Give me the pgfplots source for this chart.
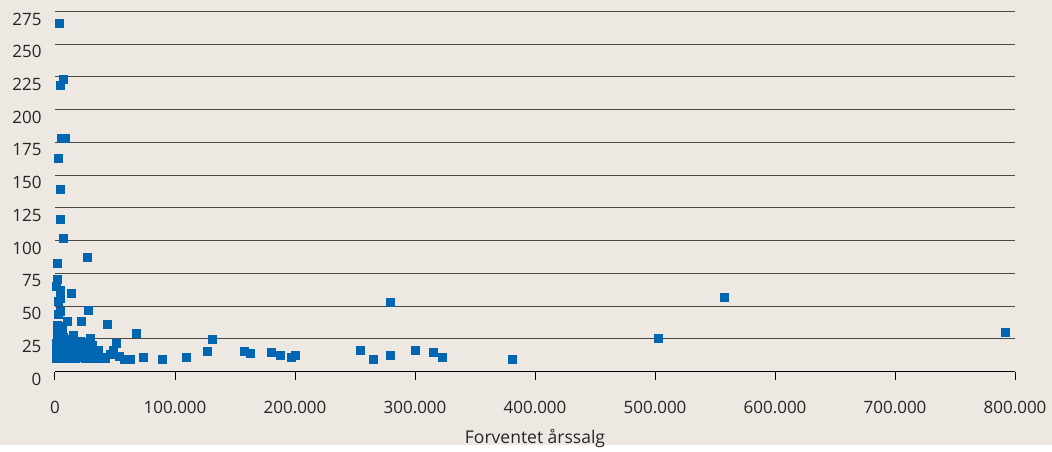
\documentclass[border=0pt]{standalone}
\usepackage{fontspec}
\setmainfont{Open Sans}
\usepackage{pgfplots}
\pgfplotsset{compat=1.18}

\definecolor{bgbeige}{HTML}{EDE9E2}
\definecolor{dotblue}{HTML}{0066B2}
\definecolor{gridgray}{HTML}{4A4946}

\begin{document}
\begin{tikzpicture}
% page background, 1052 x 445, axis area starts at (0,0)
\fill[bgbeige] (-55pt,-73.5pt) rectangle (997pt,371.5pt);
\begin{axis}[
    scale only axis,
    width=960pt,
    height=360pt,
    xmin=0, xmax=800000,
    ymin=0, ymax=275,
    enlargelimits=false,
    clip=false,
    axis x line=bottom,
    axis y line=left,
    axis line style={-},
    x axis line style={black, line width=1pt},
    y axis line style={draw=none},
    ytick={0,25,...,275},
    xtick={0,100000,...,800000},
    ytick style={draw=none},
    xtick style={black, line width=1pt},
    xtick align=outside,
    major tick length=8pt,
    scaled x ticks=false,
    ymajorgrids,
    grid style={gridgray, line width=1pt},
    /pgf/number format/.cd, fixed, 1000 sep={.}, assume math mode=true,
    /pgfplots/.cd,
    tick label style={font=\fontsize{17}{20}\selectfont, text=black!85},
    yticklabel style={yshift=-7.5pt, xshift=-6pt},
    xticklabel style={yshift=-18pt},
    xlabel={Forventet årssalg},
    xlabel style={font=\fontsize{17.5}{20}\selectfont, text=black!85, yshift=-9pt},
]
\addplot[only marks, color=dotblue, mark=square*, mark size=4pt,
         mark options={draw=none, fill=dotblue}] coordinates {
% tall values at very small sales
(3300,266) (6700,223) (4200,219) (5000,178) (8300,178) (2500,163)
(4200,139) (4200,116) (7200,102) (26700,87) (1700,82.5) (2200,70.5)
(1400,65) (4200,62) (4200,56) (13300,59.5) (2500,54) (27500,46.5)
(2500,44) (4200,46) (10000,38.8) (21700,38.8) (43300,35.8) (5300,34.3)
(67500,28.9) (15000,27.9) (2500,27.9) (29700,25.8) (50800,21.6) (2500,19)
% dense cluster near the origin
(1000,10) (1000,14) (1000,18) (1000,22) (1500,26) (1500,30) (2000,12)
(2000,35) (2500,16) (2500,20) (3000,10) (3000,24) (3500,13) (4000,28)
(4000,18) (4500,11) (5000,22) (5000,15) (6000,32) (6000,12) (7000,19)
(7000,26) (8000,10) (8000,14) (9000,22) (10000,17) (10000,12) (11000,20)
(12000,10) (12000,25) (13000,15) (14000,21) (15000,12) (16000,18)
(17000,10) (18000,14) (19000,20) (20000,11) (21000,23) (22000,16)
(23000,12) (24000,19) (25000,10) (26000,14) (27000,22) (28000,11)
(29000,17) (30000,13) (31000,20) (32000,10) (33000,15) (35800,15.9)
(37000,10) (40000,11) (42000,10) (45600,13.1) (48600,15.9) (53600,11.8)
(58000,9.6) (63000,9.6)
% spread along the axis
(73600,11.3) (89700,9.6) (109000,11.3) (127000,15.7) (130600,24.3)
(157800,15.7) (163000,14.1) (180000,14.9) (187500,12.1) (197000,11.3)
(200000,12.1) (254700,15.9) (265000,9.6) (279000,12.8) (279000,53)
(300000,15.9) (315000,14.4) (323000,11.3) (380600,9.6)
(503000,25.8) (557500,56.4) (792000,30.4)
};
\end{axis}
\end{tikzpicture}
\end{document}
